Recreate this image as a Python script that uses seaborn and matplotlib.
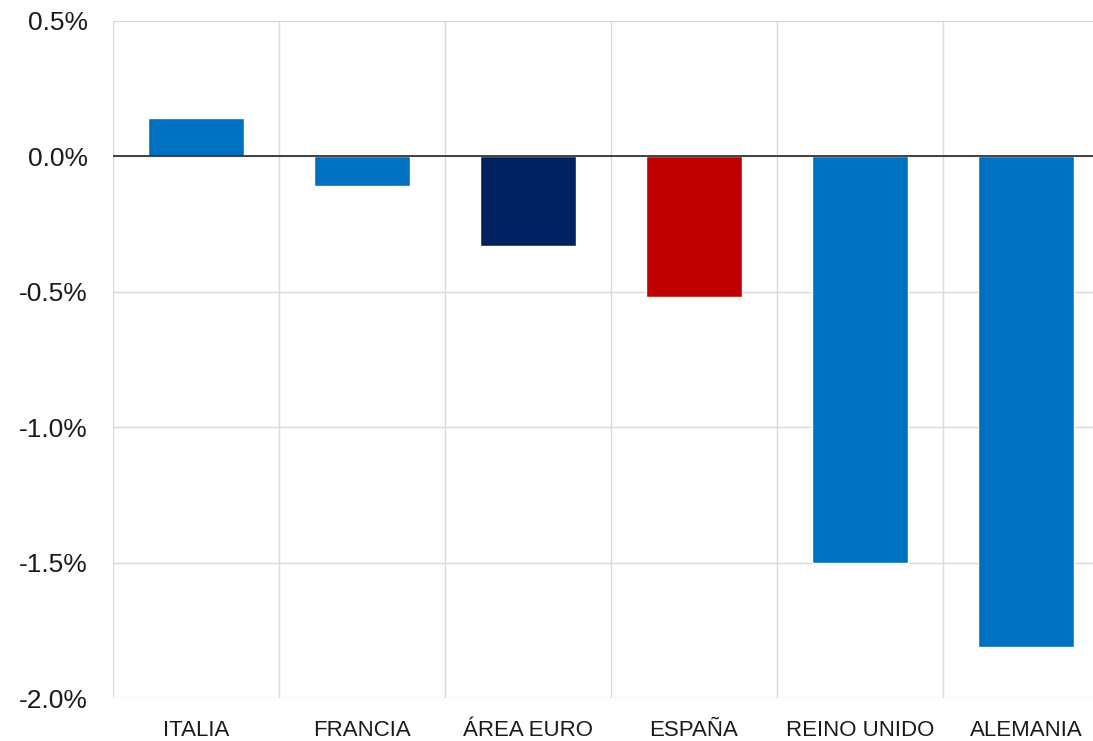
import matplotlib
matplotlib.use("Agg")
import matplotlib.pyplot as plt
import seaborn as sns
import pandas as pd
from matplotlib.ticker import FuncFormatter, MultipleLocator, FixedLocator

categories = ["ITALIA", "FRANCIA", "ÁREA EURO", "ESPAÑA", "REINO UNIDO", "ALEMANIA"]
values = [0.14, -0.11, -0.33, -0.52, -1.50, -1.81]
colors = ["#0070C0", "#0070C0", "#002060", "#C00000", "#0070C0", "#0070C0"]

sns.set_theme(style="white")
plt.rcParams["font.family"] = ["Liberation Sans", "DejaVu Sans"]

df = pd.DataFrame({"pais": categories, "valor": values})

fig = plt.figure(figsize=(10.93, 7.41), dpi=100)
ax = fig.add_axes([113 / 1093, 1 - 698 / 741, (1109 - 113) / 1093, (698 - 21) / 741])

sns.barplot(data=df, x="pais", y="valor", hue="pais", palette=colors,
            legend=False, width=0.58, ax=ax, saturation=1, zorder=3)

ax.set_xlim(-0.5, 5.5)
ax.set_ylim(-2.0, 0.5)
ax.yaxis.set_major_locator(MultipleLocator(0.5))
ax.yaxis.set_major_formatter(FuncFormatter(lambda v, p: f"{v:.1f}%"))
ax.xaxis.set_minor_locator(FixedLocator([-0.5, 0.5, 1.5, 2.5, 3.5, 4.5, 5.5]))

ax.grid(axis="y", which="major", color="#d9d9d9", linewidth=1.0, zorder=0)
ax.grid(axis="x", which="minor", color="#d9d9d9", linewidth=1.0, zorder=0)
ax.grid(axis="x", which="major", visible=False)
ax.axhline(0, color="#333333", linewidth=1.3, zorder=4)

for s in ax.spines.values():
    s.set_visible(False)

ax.set_xlabel("")
ax.set_ylabel("")
ax.tick_params(axis="y", length=0, pad=18, labelsize=19, labelcolor="#1a1a1a")
ax.tick_params(axis="x", which="both", length=0, pad=16, labelsize=16, labelcolor="#1a1a1a")

fig.savefig("out.png", dpi=100)
